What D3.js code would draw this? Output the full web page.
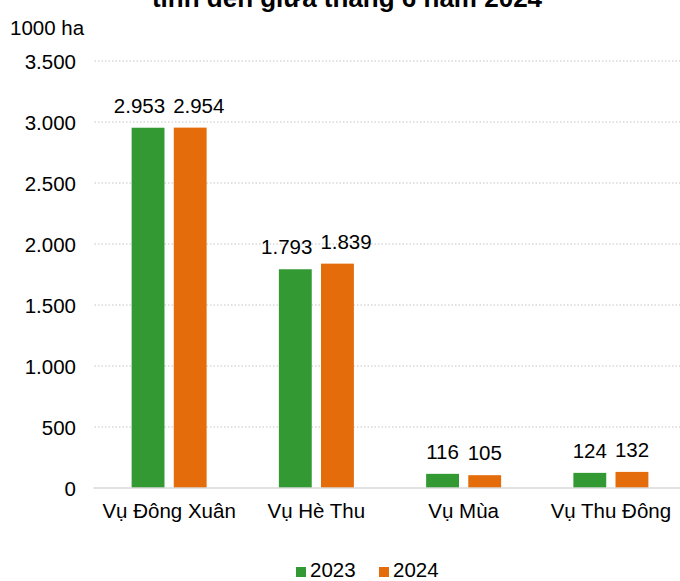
<!DOCTYPE html>
<html>
<head>
<meta charset="utf-8">
<script src="https://cdn.jsdelivr.net/npm/d3@7"></script>
<style>
  body { margin: 0; background: #fff; }
  text { font-family: "Liberation Sans", Arial, sans-serif; fill: #000; }
</style>
</head>
<body>
<div id="chart"></div>
<script>
var categories = ['Vụ Đông Xuân', 'Vụ Hè Thu', 'Vụ Mùa', 'Vụ Thu Đông']
var seriesNames = ['2023', '2024']
var values2023 = [2953, 1793, 116, 124]
var values2024 = [2954, 1839, 105, 132]
var yTicks = [0, 500, 1000, 1500, 2000, 2500, 3000, 3500]
var colors = ['#339933', '#e46c0a']

var width = 680, height = 581
var margin = {top: 61, bottom: 93, left: 95.5, right: -4.5}
var fontSize = 20.5

var svg = d3.select('#chart').append('svg').attr('width', width).attr('height', height)

// tiêu đề (bị cắt ở trên)
svg.append('text')
  .text('tính đến giữa tháng 6 năm 2024')
  .attr('x', 347).attr('y', 7)
  .attr('text-anchor', 'middle')
  .attr('font-size', 26).attr('font-weight', 'bold')

svg.append('text').text('1000 ha').attr('x', 10).attr('y', 35).attr('font-size', fontSize)

var x = d3.scaleBand().domain(categories).range([margin.left, width - margin.right])
var xi = d3.scaleBand().domain(seriesNames).range([0, 75]).paddingInner(0.22)
var y = d3.scaleLinear().domain([0, 3500]).range([height - margin.bottom, margin.top])

// lưới
svg.append('g').selectAll('line').data(yTicks.filter(d => d > 0)).join('line')
  .attr('x1', margin.left - 1).attr('x2', width)
  .attr('y1', d => y(d)).attr('y2', d => y(d))
  .attr('stroke', '#c4c4c4').attr('stroke-dasharray', '1.5,2')

var yAxis = d3.axisLeft(y).tickValues(yTicks).tickSize(0).tickPadding(0)
  .tickFormat(d => d3.format(',')(d).replace(/,/g, '.'))
svg.append('g').attr('transform', 'translate(76,0)').call(yAxis)
  .call(g => g.select('.domain').remove())
  .selectAll('text').attr('font-size', fontSize).attr('font-family', null).attr('dy', '0.35em')

var data = []
categories.forEach((c, k) => {
  data.push({cat: c, s: '2023', value: values2023[k], color: colors[0]})
  data.push({cat: c, s: '2024', value: values2024[k], color: colors[1]})
})
var groupOff = (x.bandwidth() - 75) / 2

svg.append('g').selectAll('rect').data(data).join('rect')
  .attr('x', d => x(d.cat) + groupOff + xi(d.s))
  .attr('width', xi.bandwidth())
  .attr('y', d => y(d.value))
  .attr('height', d => y(0) - y(d.value))
  .attr('fill', d => d.color)

// nhãn giá trị
var labels = svg.append('g').selectAll('text').data(data).join('text')
  .text(d => d3.format(',')(d.value).replace(/,/g, '.'))
  .attr('font-size', fontSize)
  .attr('text-anchor', 'middle')
  .attr('y', d => y(d.value) - 15)
labels.attr('x', function (d) {
  var cx = x(d.cat) + groupOff + xi(d.s) + xi.bandwidth() / 2
  var w = this.getComputedTextLength()
  var shift = Math.max(0, (w + 8 - xi.step()) / 2)
  return d.s === '2023' ? cx - shift : cx + shift
})

// trục 0
svg.append('line')
  .attr('x1', margin.left - 2).attr('x2', width)
  .attr('y1', y(0)).attr('y2', y(0))
  .attr('stroke', '#d9d9d9').attr('stroke-width', 1.5)

svg.append('g').selectAll('text').data(categories).join('text')
  .text(d => d)
  .attr('x', d => x(d) + x.bandwidth() / 2)
  .attr('y', 518)
  .attr('text-anchor', 'middle')
  .attr('font-size', fontSize)

// chú giải
var legend = svg.append('g').attr('transform', 'translate(296,0)')
seriesNames.forEach((s, k) => {
  var lx = k * 83
  legend.append('rect').attr('x', lx).attr('y', 567).attr('width', 10).attr('height', 10).attr('fill', colors[k])
  legend.append('text').text(s).attr('x', lx + 14).attr('y', 577).attr('font-size', fontSize)
})
</script>
</body>
</html>
